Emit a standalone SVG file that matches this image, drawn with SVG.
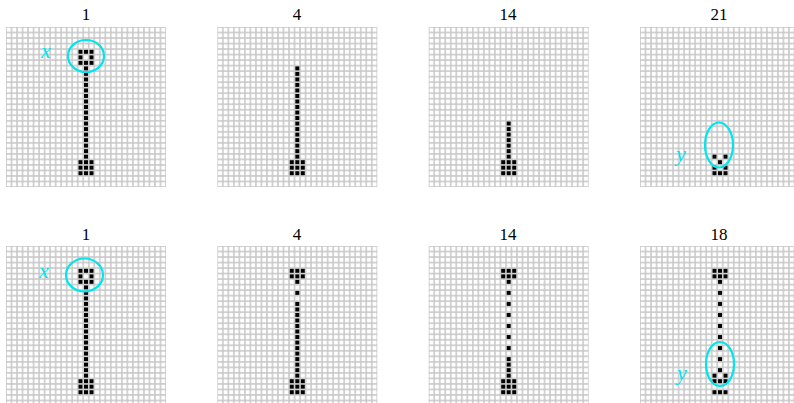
<svg xmlns="http://www.w3.org/2000/svg" xmlns:xlink="http://www.w3.org/1999/xlink" width="794" height="403" viewBox="0 0 794 403">
<style>
.t{font-family:"Liberation Serif",serif;font-size:17px;fill:#000;text-anchor:middle}
.lab{font-family:"Liberation Serif",serif;font-style:italic;font-size:22px;fill:#00e5ee}
.ring{fill:none;stroke:#00e5ee;stroke-width:2.2}
</style>
<defs>
<pattern id="grid" width="1" height="1" patternUnits="userSpaceOnUse"><rect width="1" height="1" fill="#c8c8c8"/><rect x="0.14" y="0.14" width="0.72" height="0.72" fill="#fff"/></pattern>
<rect id="k" x="0.14" y="0.14" width="0.72" height="0.72" fill="#000"/>
</defs>
<rect width="794" height="403" fill="#fff"/>

<g id="panel-top-1">
<text class="t" x="86" y="20">1</text>
<g transform="translate(6,27) scale(5.5172)">
<rect width="29" height="29" fill="url(#grid)"/>
<use href="#k" x="13" y="4"/><use href="#k" x="14" y="4"/><use href="#k" x="15" y="4"/>
<use href="#k" x="13" y="5"/><use href="#k" x="15" y="5"/>
<use href="#k" x="13" y="6"/><use href="#k" x="14" y="6"/><use href="#k" x="15" y="6"/>
<use href="#k" x="14" y="7"/><use href="#k" x="14" y="8"/><use href="#k" x="14" y="9"/><use href="#k" x="14" y="10"/><use href="#k" x="14" y="11"/><use href="#k" x="14" y="12"/><use href="#k" x="14" y="13"/><use href="#k" x="14" y="14"/><use href="#k" x="14" y="15"/><use href="#k" x="14" y="16"/><use href="#k" x="14" y="17"/><use href="#k" x="14" y="18"/><use href="#k" x="14" y="19"/><use href="#k" x="14" y="20"/><use href="#k" x="14" y="21"/><use href="#k" x="14" y="22"/><use href="#k" x="14" y="23"/>
<use href="#k" x="13" y="24"/><use href="#k" x="14" y="24"/><use href="#k" x="15" y="24"/>
<use href="#k" x="13" y="25"/><use href="#k" x="14" y="25"/><use href="#k" x="15" y="25"/>
<use href="#k" x="13" y="26"/><use href="#k" x="14" y="26"/><use href="#k" x="15" y="26"/>
</g>
<ellipse class="ring" cx="86" cy="56" rx="18" ry="16"/>
<text class="lab" x="41" y="58">x</text>
</g>

<g id="panel-top-4">
<text class="t" x="297" y="20">4</text>
<g transform="translate(217.3,27) scale(5.5172)">
<rect width="29" height="29" fill="url(#grid)"/>
<use href="#k" x="14" y="7"/><use href="#k" x="14" y="8"/><use href="#k" x="14" y="9"/><use href="#k" x="14" y="10"/><use href="#k" x="14" y="11"/><use href="#k" x="14" y="12"/><use href="#k" x="14" y="13"/><use href="#k" x="14" y="14"/><use href="#k" x="14" y="15"/><use href="#k" x="14" y="16"/><use href="#k" x="14" y="17"/><use href="#k" x="14" y="18"/><use href="#k" x="14" y="19"/><use href="#k" x="14" y="20"/><use href="#k" x="14" y="21"/><use href="#k" x="14" y="22"/><use href="#k" x="14" y="23"/>
<use href="#k" x="13" y="24"/><use href="#k" x="14" y="24"/><use href="#k" x="15" y="24"/>
<use href="#k" x="13" y="25"/><use href="#k" x="14" y="25"/><use href="#k" x="15" y="25"/>
<use href="#k" x="13" y="26"/><use href="#k" x="14" y="26"/><use href="#k" x="15" y="26"/>
</g>
</g>

<g id="panel-top-14">
<text class="t" x="508" y="20">14</text>
<g transform="translate(428.7,27) scale(5.5172)">
<rect width="29" height="29" fill="url(#grid)"/>
<use href="#k" x="14" y="17"/><use href="#k" x="14" y="18"/><use href="#k" x="14" y="19"/><use href="#k" x="14" y="20"/><use href="#k" x="14" y="21"/><use href="#k" x="14" y="22"/><use href="#k" x="14" y="23"/>
<use href="#k" x="13" y="24"/><use href="#k" x="14" y="24"/><use href="#k" x="15" y="24"/>
<use href="#k" x="13" y="25"/><use href="#k" x="14" y="25"/><use href="#k" x="15" y="25"/>
<use href="#k" x="13" y="26"/><use href="#k" x="14" y="26"/><use href="#k" x="15" y="26"/>
</g>
</g>

<g id="panel-top-21">
<text class="t" x="719" y="20">21</text>
<g transform="translate(640,27) scale(5.5172)">
<rect width="29" height="29" fill="url(#grid)"/>
<use href="#k" x="13" y="23"/><use href="#k" x="15" y="23"/>
<use href="#k" x="14" y="24"/>
<use href="#k" x="13" y="25"/><use href="#k" x="15" y="25"/>
<use href="#k" x="13" y="26"/><use href="#k" x="14" y="26"/><use href="#k" x="15" y="26"/>
</g>
<ellipse class="ring" cx="719" cy="145" rx="14" ry="22.5"/>
<text class="lab" x="676" y="161">y</text>
</g>

<g id="panel-bottom-1">
<text class="t" x="86" y="240">1</text>
<g transform="translate(6,246) scale(5.5172)">
<rect width="29" height="29" fill="url(#grid)"/>
<use href="#k" x="13" y="4"/><use href="#k" x="14" y="4"/><use href="#k" x="15" y="4"/>
<use href="#k" x="13" y="5"/><use href="#k" x="15" y="5"/>
<use href="#k" x="13" y="6"/><use href="#k" x="14" y="6"/><use href="#k" x="15" y="6"/>
<use href="#k" x="14" y="7"/><use href="#k" x="14" y="8"/><use href="#k" x="14" y="9"/><use href="#k" x="14" y="10"/><use href="#k" x="14" y="11"/><use href="#k" x="14" y="12"/><use href="#k" x="14" y="13"/><use href="#k" x="14" y="14"/><use href="#k" x="14" y="15"/><use href="#k" x="14" y="16"/><use href="#k" x="14" y="17"/><use href="#k" x="14" y="18"/><use href="#k" x="14" y="19"/><use href="#k" x="14" y="20"/><use href="#k" x="14" y="21"/><use href="#k" x="14" y="22"/><use href="#k" x="14" y="23"/>
<use href="#k" x="13" y="24"/><use href="#k" x="14" y="24"/><use href="#k" x="15" y="24"/>
<use href="#k" x="13" y="25"/><use href="#k" x="14" y="25"/><use href="#k" x="15" y="25"/>
<use href="#k" x="13" y="26"/><use href="#k" x="14" y="26"/><use href="#k" x="15" y="26"/>
</g>
<ellipse class="ring" cx="84.5" cy="275" rx="18.5" ry="16.5"/>
<text class="lab" x="39" y="278">x</text>
</g>

<g id="panel-bottom-4">
<text class="t" x="297" y="240">4</text>
<g transform="translate(217.3,246) scale(5.5172)">
<rect width="29" height="29" fill="url(#grid)"/>
<use href="#k" x="13" y="4"/><use href="#k" x="14" y="4"/><use href="#k" x="15" y="4"/>
<use href="#k" x="13" y="5"/><use href="#k" x="14" y="5"/><use href="#k" x="15" y="5"/>
<use href="#k" x="14" y="6"/>
<use href="#k" x="14" y="8"/>
<use href="#k" x="14" y="10"/><use href="#k" x="14" y="11"/><use href="#k" x="14" y="12"/><use href="#k" x="14" y="13"/><use href="#k" x="14" y="14"/><use href="#k" x="14" y="15"/><use href="#k" x="14" y="16"/><use href="#k" x="14" y="17"/><use href="#k" x="14" y="18"/><use href="#k" x="14" y="19"/><use href="#k" x="14" y="20"/><use href="#k" x="14" y="21"/><use href="#k" x="14" y="22"/><use href="#k" x="14" y="23"/>
<use href="#k" x="13" y="24"/><use href="#k" x="14" y="24"/><use href="#k" x="15" y="24"/>
<use href="#k" x="13" y="25"/><use href="#k" x="14" y="25"/><use href="#k" x="15" y="25"/>
<use href="#k" x="13" y="26"/><use href="#k" x="14" y="26"/><use href="#k" x="15" y="26"/>
</g>
</g>

<g id="panel-bottom-14">
<text class="t" x="508" y="240">14</text>
<g transform="translate(428.7,246) scale(5.5172)">
<rect width="29" height="29" fill="url(#grid)"/>
<use href="#k" x="13" y="4"/><use href="#k" x="14" y="4"/><use href="#k" x="15" y="4"/>
<use href="#k" x="13" y="5"/><use href="#k" x="14" y="5"/><use href="#k" x="15" y="5"/>
<use href="#k" x="14" y="6"/>
<use href="#k" x="14" y="8"/><use href="#k" x="14" y="10"/><use href="#k" x="14" y="12"/><use href="#k" x="14" y="14"/><use href="#k" x="14" y="16"/><use href="#k" x="14" y="18"/><use href="#k" x="14" y="20"/><use href="#k" x="14" y="21"/><use href="#k" x="14" y="22"/><use href="#k" x="14" y="23"/>
<use href="#k" x="13" y="24"/><use href="#k" x="14" y="24"/><use href="#k" x="15" y="24"/>
<use href="#k" x="13" y="25"/><use href="#k" x="14" y="25"/><use href="#k" x="15" y="25"/>
<use href="#k" x="13" y="26"/><use href="#k" x="14" y="26"/><use href="#k" x="15" y="26"/>
</g>
</g>

<g id="panel-bottom-18">
<text class="t" x="719" y="240">18</text>
<g transform="translate(640,246) scale(5.5172)">
<rect width="29" height="29" fill="url(#grid)"/>
<use href="#k" x="13" y="4"/><use href="#k" x="14" y="4"/><use href="#k" x="15" y="4"/>
<use href="#k" x="13" y="5"/><use href="#k" x="14" y="5"/><use href="#k" x="15" y="5"/>
<use href="#k" x="14" y="6"/>
<use href="#k" x="14" y="8"/><use href="#k" x="14" y="10"/><use href="#k" x="14" y="12"/><use href="#k" x="14" y="14"/><use href="#k" x="14" y="16"/><use href="#k" x="14" y="18"/><use href="#k" x="14" y="20"/><use href="#k" x="14" y="22"/>
<use href="#k" x="13" y="23"/><use href="#k" x="15" y="23"/>
<use href="#k" x="13" y="24"/><use href="#k" x="14" y="24"/><use href="#k" x="15" y="24"/>
<use href="#k" x="13" y="26"/><use href="#k" x="14" y="26"/><use href="#k" x="15" y="26"/>
</g>
<ellipse class="ring" cx="720" cy="364" rx="14" ry="22"/>
<text class="lab" x="677" y="380">y</text>
</g>
</svg>
